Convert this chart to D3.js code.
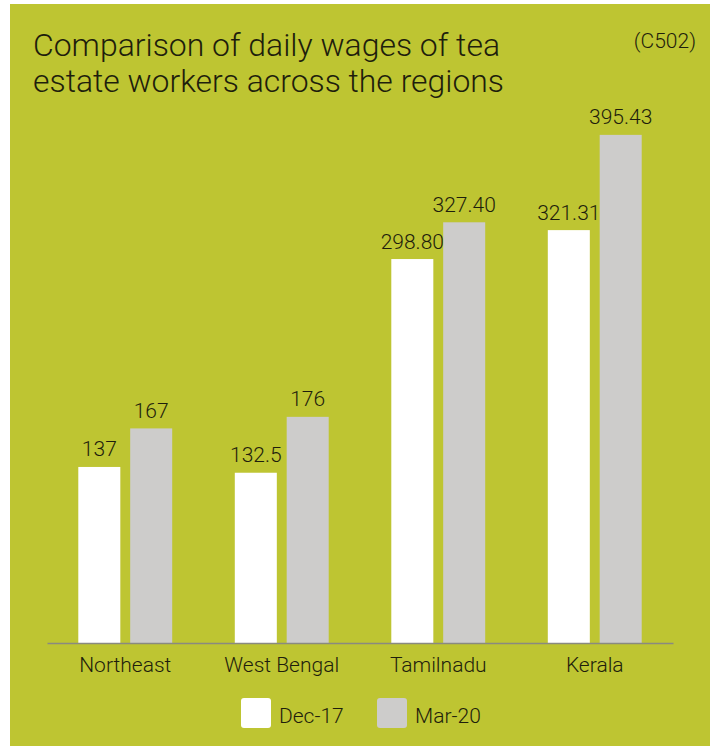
<!DOCTYPE html>
<html><head><meta charset="utf-8">
<script src="https://cdn.jsdelivr.net/npm/d3@7"></script>
<style>
html,body{margin:0;padding:0;background:#fff;}
svg{display:block;}
text{font-family:Roboto,"Noto Sans",sans-serif;fill:#1e1e0c;}
</style></head>
<body>
<svg id="chart" width="710" height="746"></svg>
<script>
const categories = ["Northeast","West Bengal","Tamilnadu","Kerala"];
const seriesNames = ["Dec-17","Mar-20"];
const dec17 = [137, 132.5, 298.80, 321.31];
const mar20 = [167, 176, 327.40, 395.43];
const dec17Labels = ["137","132.5","298.80","321.31"];
const mar20Labels = ["167","176","327.40","395.43"];
const titleLines = ["Comparison of daily wages of tea","estate workers across the regions"];
const colors = ["#ffffff","#cdcccb"];

const svg = d3.select("#chart");
svg.append("rect").attr("x",10).attr("y",4).attr("width",700).attr("height",742).attr("fill","#bec532");

const titleY = [55.5, 92];
const titleW = [467, 471];
titleLines.forEach((t,i)=>{
  svg.append("text").attr("x",33).attr("y",titleY[i]).attr("font-size",31).attr("font-weight",300)
    .attr("textLength",titleW[i]).attr("lengthAdjust","spacingAndGlyphs").text(t);
});
svg.append("text").attr("x",696).attr("y",48).attr("text-anchor","end").attr("font-size",21).attr("font-weight",300).text("(C502)");

const x0 = d3.scaleBand().domain(categories).range([47,673]).paddingInner(0.4).paddingOuter(0.2);
const x1 = d3.scaleBand().domain(seriesNames).range([0,x0.bandwidth()]).paddingInner(0.19);
const y = d3.scaleLinear().domain([0,400]).range([643,129]);

const data = categories.map((c,i)=>({cat:c, vals:[
  {s:seriesNames[0], v:dec17[i], l:dec17Labels[i]},
  {s:seriesNames[1], v:mar20[i], l:mar20Labels[i]}]}));

const g = svg.append("g");
const groups = g.selectAll("g.grp").data(data).join("g").attr("class","grp")
  .attr("transform",d=>`translate(${x0(d.cat)},0)`);
groups.selectAll("rect").data(d=>d.vals).join("rect")
  .attr("x",d=>x1(d.s)).attr("width",x1.bandwidth())
  .attr("y",d=>y(d.v)).attr("height",d=>y(0)-y(d.v))
  .attr("fill",(d,i)=>colors[i]);
groups.selectAll("text.val").data(d=>d.vals).join("text").attr("class","val")
  .attr("x",d=>x1(d.s)+x1.bandwidth()/2).attr("y",d=>y(d.v)-10.5)
  .attr("text-anchor","middle").attr("font-size",21).attr("font-weight",300)
  .text(d=>d.l);

const axis = svg.append("g").attr("transform",`translate(0,${y(0)})`)
  .call(d3.axisBottom(x0).tickSize(0).tickPadding(14));
axis.select(".domain").attr("stroke","#8a8a80").attr("stroke-width",1.5);
axis.selectAll(".tick text").attr("font-size",21).attr("font-weight",300)
  .attr("fill","#1e1e0c").style("font-family","Roboto, sans-serif");

const lg = svg.append("g");
const legendX = [241, 377];
seriesNames.forEach((s,i)=>{
  lg.append("rect").attr("x",legendX[i]).attr("y",698).attr("width",30).attr("height",30)
    .attr("rx",3).attr("fill",colors[i]);
  lg.append("text").attr("x",legendX[i]+38).attr("y",723).attr("font-size",21)
    .attr("font-weight",300).text(s);
});
</script>
</body></html>
